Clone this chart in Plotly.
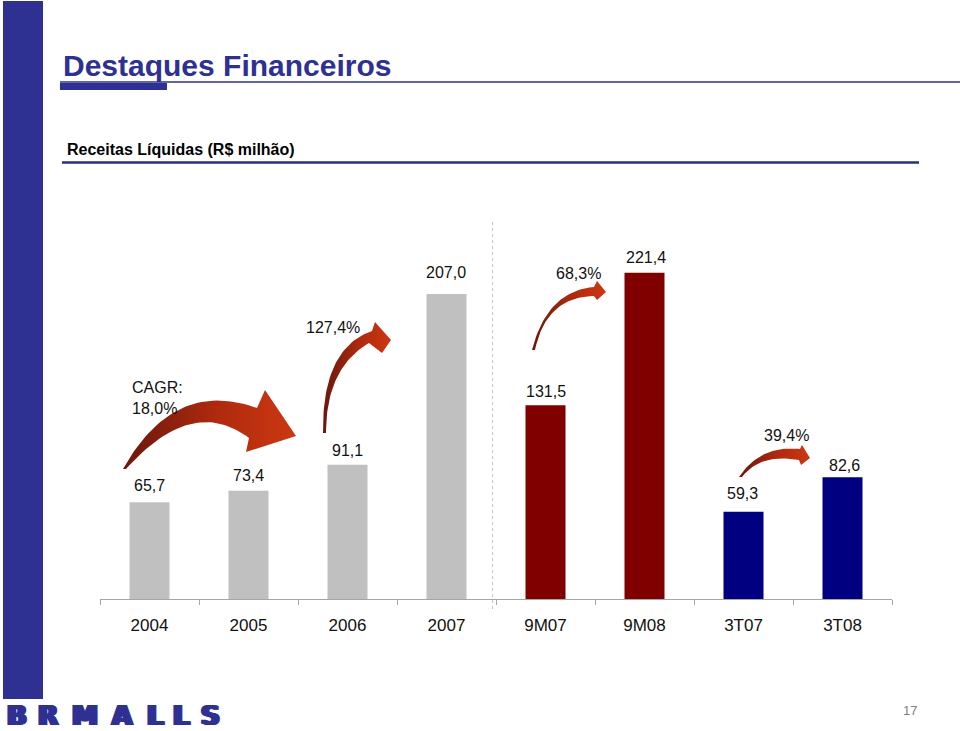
import numpy as np
import plotly.graph_objects as go

# ---------------- data ----------------
categories = ["2004", "2005", "2006", "2007", "9M07", "9M08", "3T07", "3T08"]
revenues = [65.7, 73.4, 91.1, 207.0, 131.5, 221.4, 59.3, 82.6]
value_labels = ["65,7", "73,4", "91,1", "207,0", "131,5", "221,4", "59,3", "82,6"]
growth_labels = ["CAGR:<br>18,0%", "127,4%", "68,3%", "39,4%"]
title_text = "Destaques Financeiros"
subtitle_text = "Receitas Líquidas (R$ milhão)"
logo_letters = list("BRMALLS")
page_number = "17"

# ---------------- styling ----------------
W, H = 960, 731
FONT = "Liberation Sans, Arial, sans-serif"
BLUE = "#2E3192"
bar_colors = ["#C0C0C0"] * 4 + ["#800000"] * 2 + ["#000080"] * 2
label_lift = [17, 15, 14, 22, 14, 15, 18, 12]     # px above bar top
label_xshift = [0, 0, 0, -1, 0, 1, -1, 2]

PX_PER_UNIT = 1.4734
AX_BOTTOM, AX_TOP = 599, 225
AX_LEFT, AX_RIGHT = 100, 892

fig = go.Figure()

fig.add_trace(go.Bar(
    x=categories, y=revenues,
    marker=dict(color=bar_colors, line=dict(width=0)),
    hoverinfo="skip", showlegend=False,
    xaxis="x", yaxis="y",
))


def qbez(p0, c, p1, n=40):
    t = np.linspace(0, 1, n)[:, None]
    p0, c, p1 = map(np.array, (p0, c, p1))
    return (1 - t) ** 2 * p0 + 2 * t * (1 - t) * c + t ** 2 * p1


# curved growth arrows (decorative), in page pixel coordinates
arrow_specs = [
    dict(top=((123, 469), (174, 378), (257, 408)),
         head=[(265, 390), (296, 436), (246, 452)],
         bot=((249, 438), (192, 395), (126, 469))),
    dict(top=((323, 433), (322, 348), (372, 331)),
         head=[(375, 322), (391, 340), (382, 353)],
         bot=((369, 343), (326, 368), (326, 433))),
    dict(top=((532, 350), (547, 291), (594, 287)),
         head=[(597, 281), (606, 292), (597, 300)],
         bot=((594, 296), (546, 297), (535, 350))),
    dict(top=((739, 477), (760, 445), (800, 449)),
         head=[(802, 445), (810, 458), (801, 465)],
         bot=((799, 460), (760, 453), (742, 477))),
]
for spec in arrow_specs:
    pts = np.vstack([qbez(*spec["top"]), np.array(spec["head"]),
                     qbez(*spec["bot"])])
    fig.add_trace(go.Scatter(
        x=pts[:, 0], y=pts[:, 1], mode="lines", fill="toself",
        line=dict(width=0, color="rgba(0,0,0,0)"),
        fillgradient=dict(type="horizontal",
                          colorscale=[[0, "#6a170c"], [0.55, "#b02a0e"],
                                      [1, "#cc3812"]]),
        hoverinfo="skip", showlegend=False, xaxis="x2", yaxis="y2",
    ))

shapes = [
    # left vertical band
    dict(type="rect", x0=3, x1=43, y0=1, y1=699, fillcolor=BLUE,
         line=dict(width=0)),
    # title rule
    dict(type="line", x0=60, x1=960, y0=82, y1=82,
         line=dict(color=BLUE, width=1.5)),
    dict(type="rect", x0=60, x1=167, y0=83, y1=90, fillcolor=BLUE,
         line=dict(width=0)),
    # subtitle rule
    dict(type="line", x0=62, x1=919, y0=162.5, y1=162.5,
         line=dict(color="#2A2E80", width=2.5)),
    # separator dotted line
    dict(type="line", x0=492.5, x1=492.5, y0=222, y1=612,
         line=dict(color="#C4C4C4", width=1, dash="dot")),
]
for s in shapes:
    s.update(xref="x2", yref="y2")

annotations = []
# value labels above bars (x given as category index)
for i in range(len(categories)):
    annotations.append(dict(
        x=i, y=revenues[i], xref="x", yref="y", text=value_labels[i],
        showarrow=False, yanchor="middle", xanchor="center",
        yshift=label_lift[i], xshift=label_xshift[i],
        font=dict(family=FONT, size=16, color="#111111")))

growth_pos = [(130, 398, "left"), (333, 327, "center"),
              (578, 273, "center"), (786, 435, "center")]
for txt, (gx, gy, anc) in zip(growth_labels, growth_pos):
    annotations.append(dict(
        x=gx, y=gy, xref="x2", yref="y2", text=txt, showarrow=False,
        xanchor=anc, yanchor="middle", align="left",
        font=dict(family=FONT, size=16, color="#111111")))

annotations.append(dict(
    x=61, y=65, xref="x2", yref="y2", text="<b>%s</b>" % title_text,
    showarrow=False, xanchor="left", yanchor="middle",
    font=dict(family=FONT, size=30, color=BLUE)))
annotations.append(dict(
    x=65, y=149, xref="x2", yref="y2", text="<b>%s</b>" % subtitle_text,
    showarrow=False, xanchor="left", yanchor="middle",
    font=dict(family=FONT, size=16, color="#000000")))
annotations.append(dict(
    x=910, y=710, xref="x2", yref="y2", text=page_number,
    showarrow=False, xanchor="center", yanchor="middle",
    font=dict(family=FONT, size=13, color="#808080")))

logo_x = [17, 48, 85, 122, 155, 181, 210]
for lx, ch in zip(logo_x, logo_letters):
    annotations.append(dict(
        x=lx, y=716, xref="x2", yref="y2", text="<b>%s</b>" % ch,
        showarrow=False, xanchor="center", yanchor="middle",
        font=dict(family="DejaVu Sans, sans-serif", size=26, color=BLUE,
                  shadow="1px 0 0 %s, -1px 0 0 %s, 2px 0 0 %s, -2px 0 0 %s"
                  % (BLUE, BLUE, BLUE, BLUE))))

fig.update_layout(
    width=W, height=H, autosize=False,
    margin=dict(l=0, r=0, t=0, b=0, pad=0),
    paper_bgcolor="white", plot_bgcolor="rgba(0,0,0,0)",
    bargap=1 - 40 / 99,
    showlegend=False,
    xaxis=dict(
        domain=[AX_LEFT / W, AX_RIGHT / W], type="category",
        range=[-0.5, len(categories) - 0.5],
        showline=True, linecolor="#A6A6A6", linewidth=1,
        ticks="outside", tickson="boundaries", ticklen=5,
        tickcolor="#A6A6A6", tickwidth=1,
        tickfont=dict(family=FONT, size=17, color="#111111"),
        ticklabelstandoff=11,
        showgrid=False, zeroline=False, fixedrange=True, anchor="y",
    ),
    yaxis=dict(
        domain=[(H - AX_BOTTOM) / H, (H - AX_TOP) / H],
        range=[0, (AX_BOTTOM - AX_TOP) / PX_PER_UNIT],
        visible=False, fixedrange=True, anchor="x",
    ),
    xaxis2=dict(domain=[0, 1], range=[0, W], visible=False,
                fixedrange=True, anchor="y2"),
    yaxis2=dict(domain=[0, 1], range=[H, 0], visible=False,
                fixedrange=True, anchor="x2"),
    shapes=shapes,
    annotations=annotations,
)

fig.write_html(
    "out.html",
    config=dict(displayModeBar=False, staticPlot=True),
    post_script="document.body.style.margin='0';"
                "document.body.style.overflow='hidden';",
)
